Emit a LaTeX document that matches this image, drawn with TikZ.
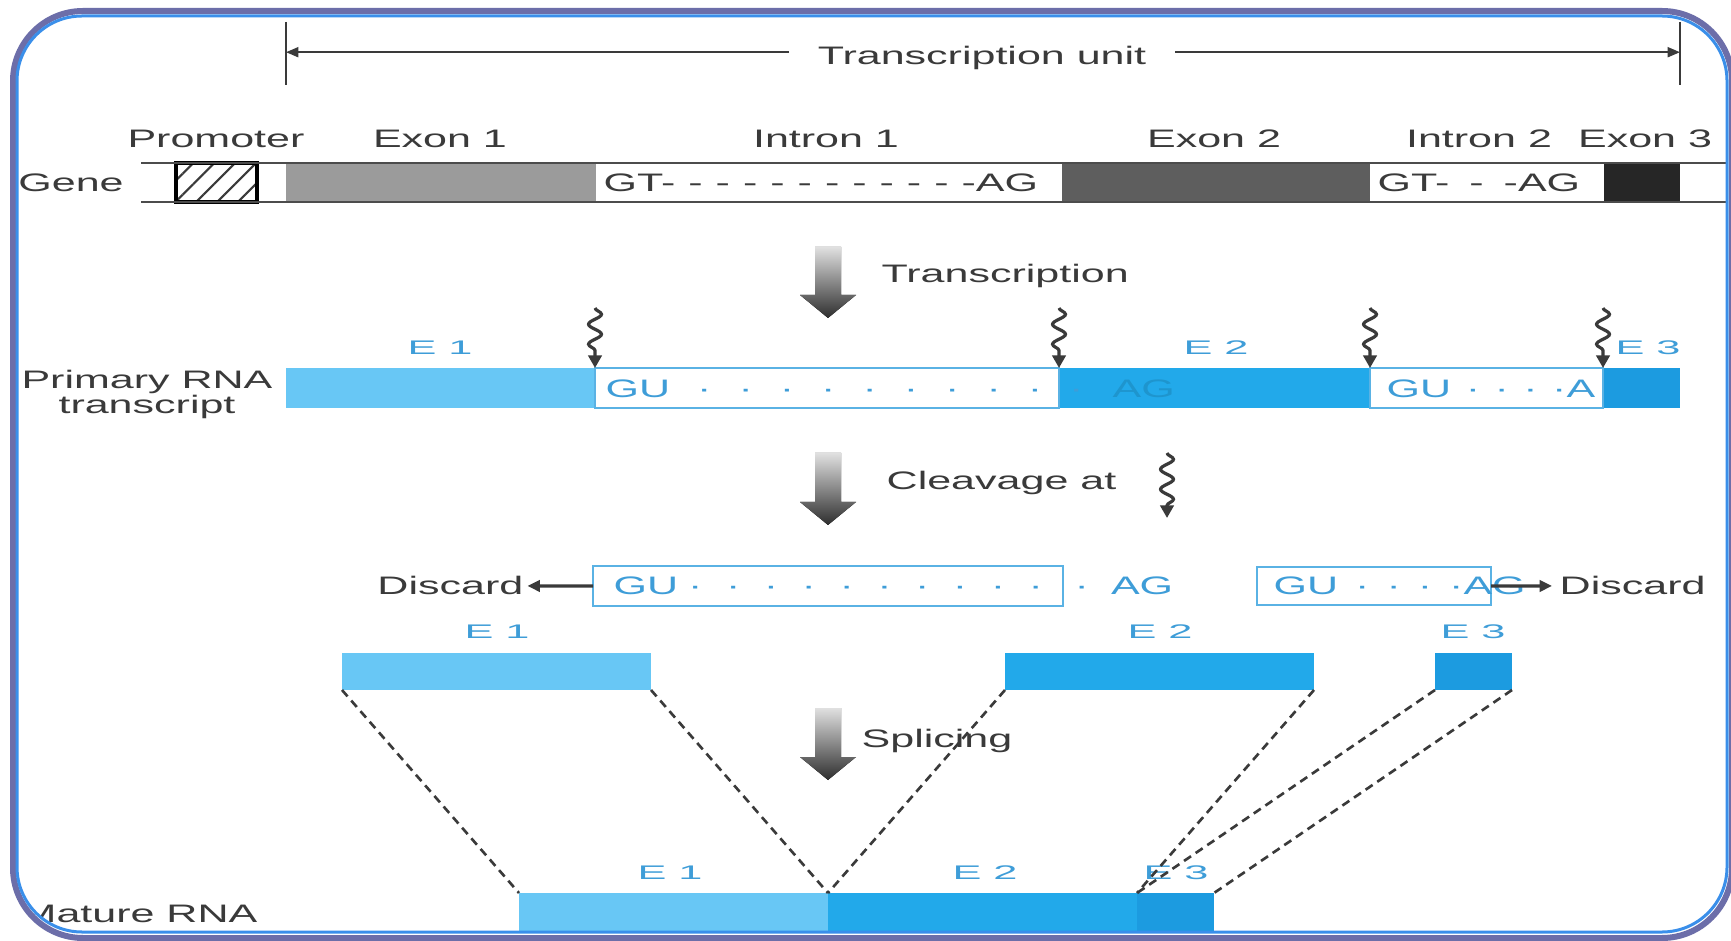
\documentclass[tikz,border=0pt]{standalone}
\usepackage{fontspec}
\setmainfont{Liberation Sans}
\newfontfamily\widesf[FakeStretch=1.7]{Liberation Sans}
\newfontfamily\widersf[FakeStretch=2.2]{Liberation Sans}
\usetikzlibrary{positioning,arrows.meta,calc,fit,patterns.meta,decorations.pathmorphing}
\definecolor{ink}{HTML}{3A3A3A}
\definecolor{rimout}{HTML}{6C6EA9}
\definecolor{rimin}{HTML}{3A8FEA}
\definecolor{gex1}{HTML}{9B9B9B}
\definecolor{gex2}{HTML}{5E5E5E}
\definecolor{gex3}{HTML}{262626}
\definecolor{rn1}{HTML}{68C7F5}
\definecolor{rn2}{HTML}{22A9EA}
\definecolor{rn3}{HTML}{1C9BE0}
\definecolor{rline}{HTML}{5AB2E4}
\definecolor{rtext}{HTML}{3E9DD8}
\tikzset{
  lbl/.style={font=\widesf\fontsize{7.2}{8.6}\selectfont,text=ink,inner sep=0pt,anchor=base},
  elbl/.style={font=\widersf\fontsize{5.6}{6.7}\selectfont,text=rtext,inner sep=0pt,anchor=base},
  seq/.style={font=\widesf\fontsize{7.2}{8.6}\selectfont,text=rtext,inner sep=0pt,anchor=base west},
  blk/.style={fit={#1},inner sep=0pt,outer sep=0pt},
  intr/.style={draw=rline,line width=0.8pt,fill=white},
  gline/.style={draw=black!70,line width=0.7pt},
  uarr/.style={ink,line width=0.6pt,-{Triangle[length=3.5pt,width=2.8pt]}},
  darr/.style={ink,line width=0.9pt,-{Triangle[length=3.5pt,width=3.2pt]}},
  wave/.style={draw=ink,line width=0.9pt,decorate,decoration={snake,amplitude=0.65mm,segment length=2mm,post length=1.1mm},-{Triangle[length=3.6pt,width=3.8pt]}},
  dsh/.style={ink,line width=0.75pt,dash pattern=on 2.4pt off 1.6pt},
}
\newcommand{\dotrun}[2]{\foreach \k in {1,...,#1}{\hspace{#2}·}}
\newcommand{\dashrun}[2]{\foreach \k in {1,...,#1}{\hspace{#2}-}}
\newcommand{\bigarr}[3]{%
  \fill[top color=black!12,bottom color=black!82] (#1-13,#2) -- (#1+13,#2) -- (#1+13,#3-23) -- (#1+28,#3-23)
    -- (#1,#3) -- (#1-28,#3-23) -- (#1-13,#3-23) -- cycle;}

\begin{document}
\begin{tikzpicture}[x=0.1mm,y=-0.1mm]
\useasboundingbox (0,0) rectangle (1731,941);
\fill[white] (0,0) rectangle (1731,941);
\begin{scope}
\clip[rounded corners=6.5mm] (17,16) rectangle (1727,932);

\coordinate (tk1) at (286,22);
\coordinate (tk2) at (1680,22);
\draw[ink,line width=0.7pt] (tk1) -- ++(0,63);
\draw[ink,line width=0.7pt] (tk2) -- ++(0,63);
\node[lbl,inner xsep=8pt] (tu) at (982,65) {Transcription unit};
\coordinate (tua) at ($(tu.west)!0.5!(tu.north west)$);
\coordinate (tub) at ($(tu.east)!0.5!(tu.north east)$);
\draw[uarr] (tua) -- (tua -| tk1);
\draw[uarr] (tub) -- (tub -| tk2);

\node[lbl] (lprom) at (216,148) {Promoter};
\node[lbl] (lex1) at (440,148) {Exon 1};
\node[lbl] (lin1) at (826,148) {Intron 1};
\node[lbl] (lex2) at (1214,148) {Exon 2};
\node[lbl] (lin2) at (1479,148) {Intron 2};
\node[lbl] (lex3) at (1645,148) {Exon 3};
\node[lbl] (gene) at (71,192) {Gene};

\node[blk={(286,163) (596,202)},fill=gex1] (g1) {};
\node[blk={(1062,163) (1370,202)},fill=gex2] (g2) {};
\node[blk={(1604,163) (1680,202)},fill=gex3] (g3) {};
\node[blk={(176,163) (257,202)},draw=black,line width=0.9pt,pattern={Lines[angle=45,distance=4.2pt,line width=0.6pt]},pattern color=ink] (prom) {};
\draw[gline] (141,163) -- (1731,163);
\draw[gline] (141,202) -- (1731,202);
\node[lbl,anchor=base west] (gi1) at (603,192) {GT-\dashrun{11}{1.3mm}AG};
\node[lbl,anchor=base west] (gi2) at (1377,192) {GT-\dashrun{2}{2mm}AG};

\bigarr{828}{247}{318}
\node[lbl,anchor=base west] (ltr) at (881,283) {Transcription};

\node[elbl] (pe1) at (440,355) {E 1};
\node[elbl] (pe2) at (1216,355) {E 2};
\node[elbl] (pe3) at (1648,355) {E 3};
\node[lbl,align=center] (prim) at (147,414) {Primary RNA\\[-1.3pt]transcript};
\node[blk={(286,368) (595,408)},fill=rn1] (p1) {};
\node[blk={(1059,368) (1370,408)},fill=rn2] (p2) {};
\node[blk={(1603,368) (1680,408)},fill=rn3] (p3) {};
\node[blk={(595,368) (1059,408)},intr] (pi1) {};
\node[blk={(1370,368) (1603,408)},intr] (pi2) {};
\node[seq] (pgu1) at (605,398) {GU\dotrun{10}{2.7mm}};
\node[seq] (pgu2) at (1386,398) {GU\dotrun{4}{1.45mm}A};
\node[seq,text=rn2!88!black] (pag) at (1112,398) {AG};
\draw[wave] ($(pi1.north west)+(0,-60)$) -- (pi1.north west);
\draw[wave] ($(pi1.north east)+(0,-60)$) -- (pi1.north east);
\draw[wave] ($(pi2.north west)+(0,-60)$) -- (pi2.north west);
\draw[wave] ($(pi2.north east)+(0,-60)$) -- (pi2.north east);

\bigarr{828}{453}{525}
\node[lbl,anchor=base west] (lcl) at (886,490) {Cleavage at};
\coordinate (cw) at (1167,453);
\draw[wave] (cw) -- ++(0,65);

\node[blk={(593,566) (1063,606)},intr] (d1) {};
\node[blk={(1257,567) (1491,605)},intr] (d2) {};
\node[seq] (dgu1) at (613,595) {GU\hspace{1mm}·\dotrun{9}{2.35mm}};
\node[seq] (dag1) at (1074,595) {·\hspace{2.2mm}AG};
\node[seq] (dgu2) at (1273,595) {GU\dotrun{4}{1.7mm}AG};
\node[lbl,anchor=base east] (dc1) at (524,595) {Discard};
\node[lbl,anchor=base west] (dc2) at (1559,595) {Discard};
\draw[darr,shorten >=1pt] (d1.west) -- (dc1.east);
\draw[darr,shorten >=2pt] (d2.east) -- (dc2.west);

\node[elbl] (ce1) at (497,638) {E 1};
\node[elbl] (ce2) at (1160,638) {E 2};
\node[elbl] (ce3) at (1473,638) {E 3};
\node[blk={(342,653) (651,690)},fill=rn1] (c1) {};
\node[blk={(1005,653) (1314,690)},fill=rn2] (c2) {};
\node[blk={(1435,653) (1512,690)},fill=rn3] (c3) {};

\bigarr{828}{708}{780}
\node[lbl,anchor=base west] (lsp) at (861,747) {Splicing};

\node[elbl] (me1) at (670,879) {E 1};
\node[elbl] (me2) at (985,879) {E 2};
\node[elbl] (me3) at (1176,879) {E 3};
\node[blk={(519,893) (828,935)},fill=rn1] (m1) {};
\node[blk={(828,893) (1137,935)},fill=rn2] (m2) {};
\node[blk={(1137,893) (1214,935)},fill=rn3] (m3) {};
\node[lbl,anchor=base west] (mat) at (20,922) {Mature RNA};

\draw[dsh] (c1.south west) -- (m1.north west);
\draw[dsh] (c1.south east) -- (m1.north east);
\draw[dsh] (c2.south west) -- (m2.north west);
\draw[dsh] (c2.south east) -- (m2.north east);
\draw[dsh] (c3.south west) -- (m3.north west);
\draw[dsh] (c3.south east) -- (m3.north east);
\end{scope}

\draw[rimout,line width=0.6mm,rounded corners=7mm] (13,11) rectangle (1732,938);
\draw[rimin,line width=0.3mm,rounded corners=6.5mm] (17,16) rectangle (1727,932);
\end{tikzpicture}
\end{document}
